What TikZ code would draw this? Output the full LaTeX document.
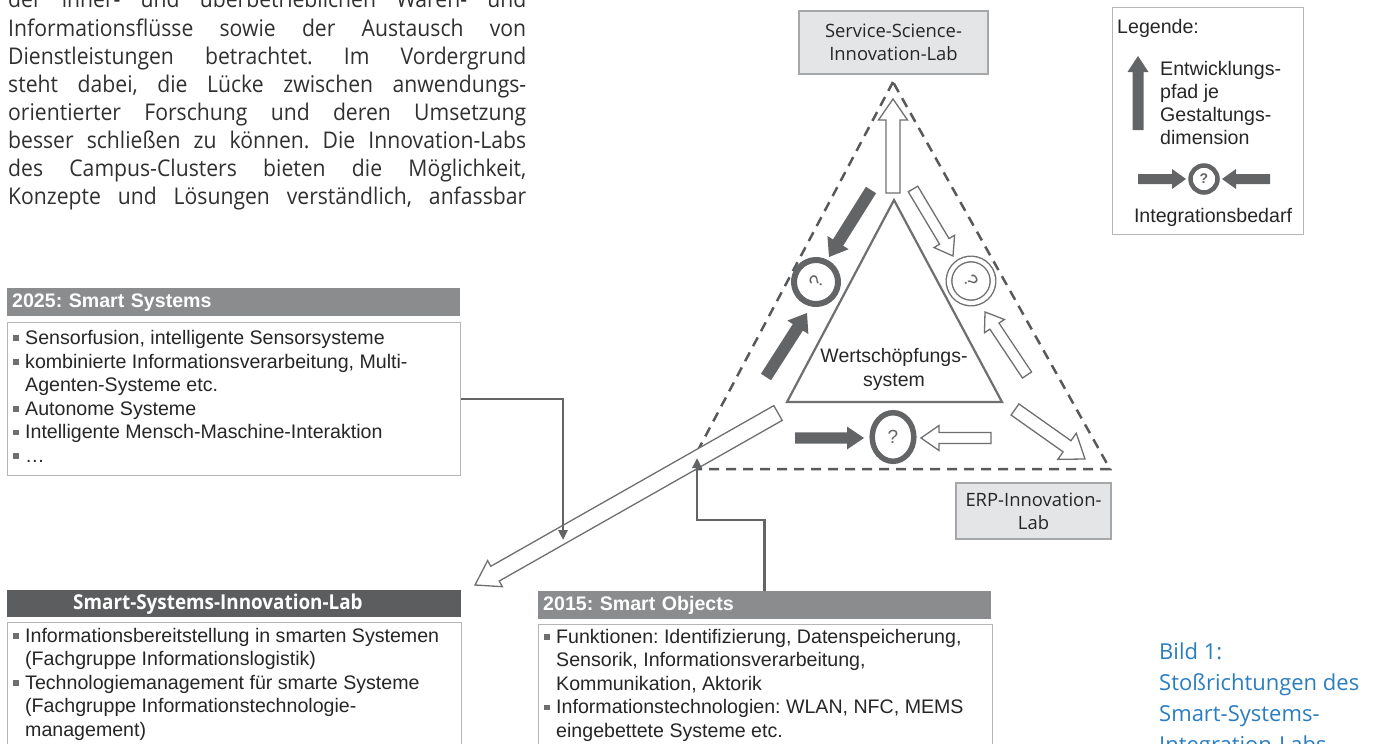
\documentclass[tikz,border=0pt]{standalone}
\usepackage{fontspec}
\setmainfont{Open Sans}
\newfontfamily\frut{Open Sans}[FakeStretch=0.92]
\newfontfamily\arialf{Liberation Sans}
\usetikzlibrary{arrows.meta,calc,shapes.geometric}
\frenchspacing
\definecolor{txt}{HTML}{262626}
\definecolor{bodytxt}{HTML}{303030}
\definecolor{darkgr}{HTML}{636466}
\definecolor{midgr}{HTML}{8B8C8E}
\definecolor{hdrdark}{HTML}{5C5D5F}
\definecolor{linegr}{HTML}{6E6F71}
\definecolor{dashgr}{HTML}{58595B}
\definecolor{boxbd}{HTML}{B4B5B7}
\definecolor{labbd}{HTML}{A6A7A9}
\definecolor{labfill}{HTML}{E4E5E6}
\definecolor{capblue}{HTML}{2A7DC0}
\definecolor{bul}{HTML}{6E6F71}
\newcommand\mysq{\makebox[12pt][l]{\textcolor{bul}{\rule[3.5pt]{5.5pt}{5.5pt}}}}
\newcommand\hgap{\hspace*{12pt}}
\newcommand\blkarrow[6]{%
  \coordinate (ba-h) at ($(#3)!#6!(#2)$);
  \draw[#1] ($(#2)!#4!90:(#3)$) -- ($(ba-h)!#4!-90:(#2)$) -- ($(ba-h)!#5!-90:(#2)$) -- (#3) -- ($(ba-h)!#5!90:(#2)$) -- ($(ba-h)!#4!90:(#2)$) -- ($(#2)!#4!-90:(#3)$) -- cycle;}
\begin{document}
\begin{tikzpicture}[x=1pt,y=-1pt,
  body/.style={anchor=base west, inner sep=0pt, text=bodytxt, font=\frut\fontsize{23}{28}\selectfont},
  capt/.style={anchor=base west, inner sep=0pt, text=capblue, font=\fontsize{22}{31}\selectfont},
  hdr/.style={anchor=north west, minimum height=28pt, text width=443pt, inner xsep=5pt, inner ysep=0pt, align=left, text=white, font=\arialf\bfseries\fontsize{19.6}{22}\selectfont},
  cbox/.style={draw=boxbd, line width=1.3pt, fill=white, anchor=north west, inner sep=0pt},
  ctext/.style={anchor=north west, inner sep=0pt, align=left, text=txt, font=\arialf\fontsize{19.6}{23.6}\selectfont},
  lab/.style={draw=labbd, fill=labfill, line width=1.2pt, align=center, text=txt, font=\fontsize{18.4}{23.2}\selectfont},
  dashtri/.style={draw=dashgr, line width=2.5pt, dash pattern=on 10pt off 7pt},
  hollow/.style={draw=linegr, fill=white, line width=1.3pt, line join=miter},
  solidarr/.style={fill=darkgr, draw=none},
  conn/.style={draw=darkgr, line width=2.6pt, -{Triangle[width=9pt,length=10pt]}},
  qfont/.style={text=darkgr, font=\arialf\fontsize{19}{19}\selectfont}
]
\useasboundingbox (0,0) rectangle (1373,744);
\clip (0,0) rectangle (1373,744);

% body text
\node[body] (p1) at (8,8) {\makebox[518pt][s]{der inner- und überbetrieblichen Waren- und}};
\node[body] (p2) at (8,36) {\makebox[518pt][s]{Informationsflüsse sowie der Austausch von}};
\node[body] (p3) at (8,64) {\makebox[518pt][s]{Dienstleistungen betrachtet. Im Vordergrund}};
\node[body] (p4) at (8,92) {\makebox[518pt][s]{steht dabei, die Lücke zwischen anwendungs-}};
\node[body] (p5) at (8,120) {\makebox[518pt][s]{orientierter Forschung und deren Umsetzung}};
\node[body] (p6) at (8,148) {\makebox[518pt][s]{besser schließen zu können. Die Innovation-Labs}};
\node[body] (p7) at (8,176) {\makebox[518pt][s]{des Campus-Clusters bieten die Möglichkeit,}};
\node[body] (p8) at (8,204) {\makebox[518pt][s]{Konzepte und Lösungen verständlich, anfassbar}};

% caption
\node[capt] (cap1) at (1159,659) {Bild 1:};
\node[capt] (cap2) at (1159,690) {Stoßrichtungen des};
\node[capt] (cap3) at (1159,721) {Smart-Systems-};
\node[capt] (cap4) at (1159,752) {Integration-Labs};

% outer dashed triangle
\coordinate (oA) at (893,82);
\coordinate (oB) at (688,469);
\coordinate (oC) at (1110,469);
\draw[dashtri] (oA) -- (oB) -- (oC) -- cycle;

% inner triangle
\coordinate (iA) at (894,200);
\coordinate (iB) at (787,402);
\coordinate (iC) at (1002,402);
\draw[draw=linegr, line width=2.2pt, line join=miter] (iA) -- (iB) -- (iC) -- cycle;
\node[align=center, inner sep=0pt, text=txt, font=\arialf\fontsize{19.5}{24}\selectfont] (wert) at (894,369.5) {Wertschöpfungs-\\system};

% left 2025 box
\node[hdr, fill=midgr] (h25) at (7,288) {2025: Smart Systems};
\node[cbox, minimum width=453pt, minimum height=153pt] (c25) at (7,322) {};
\node[ctext] (t25) at (13,330) {\mysq Sensorfusion, intelligente Sensorsysteme\\
\mysq kombinierte Informationsverarbeitung, Multi-\\
\hgap Agenten-Systeme etc.\\
\mysq Autonome Systeme\\
\mysq Intelligente Mensch-Maschine-Interaktion\\
\mysq …};

% Smart-Systems-Innovation-Lab
\node[hdr, fill=hdrdark, inner xsep=0pt, text width=454pt, minimum height=27pt, font=\frut\bfseries\fontsize{20.5}{22}\selectfont] (hssl) at (7,590) {\hspace*{66pt}Smart-Systems-Innovation-Lab};
\node[cbox, minimum width=454pt, minimum height=150pt] (cssl) at (7,622) {};
\node[ctext] (tssl) at (13,627.7) {\mysq Informationsbereitstellung in smarten Systemen\\
\hgap (Fachgruppe Informationslogistik)\\
\mysq Technologiemanagement für smarte Systeme\\
\hgap (Fachgruppe Informationstechnologie-\\
\hgap management)};

% 2015 box
\node[hdr, fill=midgr] (h15) at (538,591) {2015: Smart Objects};
\node[cbox, minimum width=454pt, minimum height=150pt] (c15) at (538,624) {};
\node[ctext] (t15) at (544,628.7) {\mysq Funktionen: Identifizierung, Datenspeicherung,\\
\hgap Sensorik, Informationsverarbeitung,\\
\hgap Kommunikation, Aktorik\\
\mysq Informationstechnologien: WLAN, NFC, MEMS\\
\hgap eingebettete Systeme etc.};

% big hollow arrow
\coordinate (bigT) at (778,413);
\coordinate (bigH) at (475,585);
\blkarrow{hollow}{bigT}{bigH}{8.5pt}{15pt}{23pt}

% connectors
\coordinate (k1) at (563,540);
\draw[conn] (c25.east) -| (k1);
\coordinate (k2) at (697,520);
\coordinate (k3) at (697,458);
\draw[conn] (h15.north) |- (k2) -- (k3);

% lab boxes
\node[lab, minimum width=189pt, minimum height=63pt] (svc) at (893.5,42.5) {Service-Science-\\Innovation-Lab};
\node[lab, minimum width=155pt, minimum height=56pt] (erp) at (1033.5,511) {ERP-Innovation-\\Lab};

% integration circles
\node[draw=darkgr, line width=6pt, circle, minimum size=44pt, inner sep=0pt, rotate=60, qfont] (q1) at (816,282) {?};
\node[draw=linegr, line width=1.4pt, double=white, double distance=4.2pt, circle, minimum size=44pt, inner sep=0pt, rotate=-60, qfont] (q2) at (971,281) {?};
\node[draw=darkgr, line width=5.5pt, ellipse, minimum width=41.6pt, minimum height=48.6pt, inner sep=0pt, qfont] (q3) at (893,437) {?};

% arrows in triangle
\coordinate (a1t) at (871,190);  \coordinate (a1h) at (829,257);
\blkarrow{solidarr}{a1t}{a1h}{6pt}{12.5pt}{17pt}
\coordinate (a2t) at (766,377);  \coordinate (a2h) at (807,313);
\blkarrow{solidarr}{a2t}{a2h}{6pt}{12.5pt}{17pt}
\coordinate (a3t) at (795,438);  \coordinate (a3h) at (864,438);
\blkarrow{solidarr}{a3t}{a3h}{5.7pt}{11.5pt}{17pt}
\coordinate (a4t) at (893,193);  \coordinate (a4h) at (893,99);
\blkarrow{hollow}{a4t}{a4h}{7pt}{14.5pt}{21pt}
\coordinate (a5t) at (913,189);  \coordinate (a5h) at (953,256);
\blkarrow{hollow}{a5t}{a5h}{5.5pt}{12pt}{17pt}
\coordinate (a6t) at (1027,375);  \coordinate (a6h) at (985,312);
\blkarrow{hollow}{a6t}{a6h}{5.5pt}{12pt}{17pt}
\coordinate (a7t) at (991,438);  \coordinate (a7h) at (921,438);
\blkarrow{hollow}{a7t}{a7h}{5.5pt}{12.5pt}{18pt}
\coordinate (a8t) at (1015,409.5);  \coordinate (a8h) at (1085,459);
\blkarrow{hollow}{a8t}{a8h}{6.8pt}{16pt}{22pt}

% legend
\node[draw=boxbd, line width=1.2pt, minimum width=191pt, minimum height=227pt, anchor=north west, inner sep=0pt] (leg) at (1112,7) {};
\node[anchor=base west, inner sep=0pt, text=txt, font=\arialf\fontsize{19.6}{23}\selectfont] (legt) at (1117,33) {Legende:};
\coordinate (l1t) at (1138,130);  \coordinate (l1h) at (1138,56);
\blkarrow{solidarr}{l1t}{l1h}{5.5pt}{10.5pt}{16pt}
\node[ctext, font=\arialf\fontsize{19.6}{23}\selectfont] (legd) at (1160,60.7) {Entwicklungs-\\pfad je\\Gestaltungs-\\dimension};
\node[draw=darkgr, line width=4.5pt, circle, minimum size=27pt, inner sep=0pt, text=darkgr, font=\arialf\bfseries\fontsize{14}{14}\selectfont] (lq) at (1204,179) {?};
\coordinate (l2t) at (1138,179);  \coordinate (l2h) at (1186,179);
\blkarrow{solidarr}{l2t}{l2h}{5pt}{10pt}{14pt}
\coordinate (l3t) at (1270,179);  \coordinate (l3h) at (1222,179);
\blkarrow{solidarr}{l3t}{l3h}{5pt}{10pt}{14pt}
\node[anchor=base, inner sep=0pt, text=txt, font=\arialf\fontsize{19.6}{23}\selectfont] (legi) at (1213,222) {Integrationsbedarf};
\end{tikzpicture}
\end{document}
